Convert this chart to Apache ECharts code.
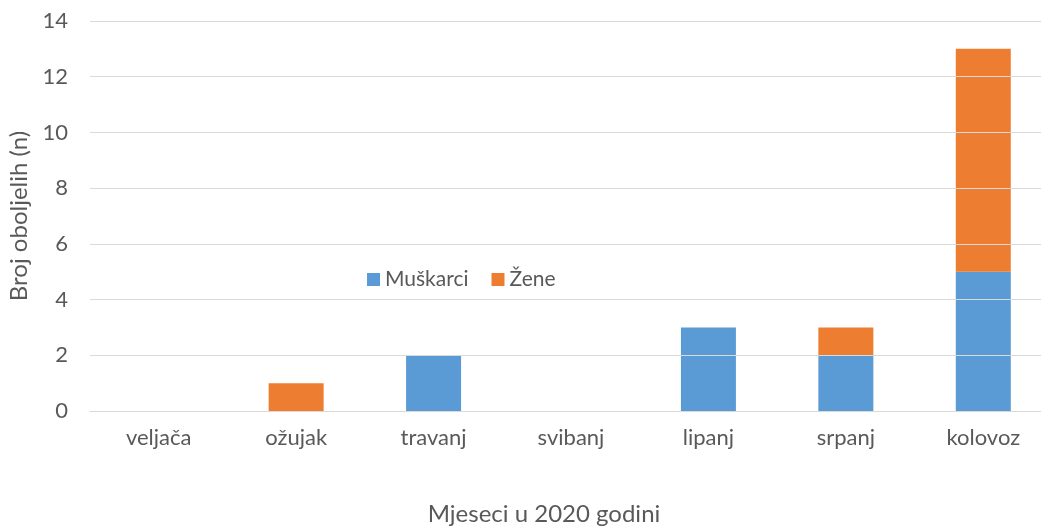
<!DOCTYPE html>
<html>
<head>
<meta charset="utf-8">
<script src="https://cdn.jsdelivr.net/npm/echarts@6/dist/echarts.min.js"></script>
<style>
  html, body { margin: 0; padding: 0; background: #fff; }
  #chart { width: 1041px; height: 526px; }
</style>
</head>
<body>
<div id="chart"></div>
<script>
// mjeseci i vrijednosti
const months = ['veljača', 'ožujak', 'travanj', 'svibanj', 'lipanj', 'srpanj', 'kolovoz'];
const muskarci = [0, 0, 2, 0, 3, 2, 5];
const zene = [0, 1, 0, 0, 0, 1, 8];
const yTicks = [0, 2, 4, 6, 8, 10, 12, 14];
const xTitle = 'Mjeseci u 2020 godini';
const yTitle = 'Broj oboljelih (n)';

const font = 'Lato, "Open Sans", sans-serif';
const textColor = '#595959';

const chart = echarts.init(document.getElementById('chart'));
chart.setOption({
  animation: false,
  color: ['#5B9BD5', '#ED7D31'],
  textStyle: { fontFamily: font },
  grid: {
    left: 90,
    top: 21,
    width: 962,
    height: 390,
    outerBoundsMode: 'none',
    containLabel: false,
  },
  legend: {
    left: 362,
    top: 264,
    itemWidth: 13,
    itemHeight: 13,
    itemGap: 23,
    icon: 'rect',
    data: ['Muškarci', 'Žene'],
    textStyle: { fontSize: 21, color: textColor, fontFamily: font, padding: [0, 0, 0, 0] },
  },
  // naslov x osi centriran na cijeli graf, kao u Excelu
  graphic: [{
    type: 'text',
    x: 544,
    y: 514,
    style: {
      text: xTitle,
      fontSize: 24,
      fontFamily: font,
      fill: textColor,
      align: 'center',
      verticalAlign: 'middle',
    },
  }],
  xAxis: {
    type: 'category',
    data: months,
    axisLine: { lineStyle: { color: '#D9D9D9', width: 1 } },
    axisTick: { show: false },
    axisLabel: { fontSize: 22, color: textColor, margin: 16, fontFamily: font },
  },
  yAxis: {
    type: 'value',
    min: yTicks[0],
    max: yTicks[yTicks.length - 1],
    interval: 2,
    z: 3,
    name: yTitle,
    nameLocation: 'middle',
    nameGap: 50,
    nameRotate: 90,
    nameTextStyle: { fontSize: 24, color: textColor, fontFamily: font },
    axisLine: { show: false },
    axisTick: { show: false },
    axisLabel: { fontSize: 22, color: textColor, margin: 22, fontFamily: font },
    splitLine: { lineStyle: { color: '#D9D9D9', width: 1 } },
  },
  series: [
    { name: 'Muškarci', type: 'bar', stack: 'n', barWidth: 55, data: muskarci },
    { name: 'Žene', type: 'bar', stack: 'n', barWidth: 55, data: zene },
  ],
});
</script>
</body>
</html>
